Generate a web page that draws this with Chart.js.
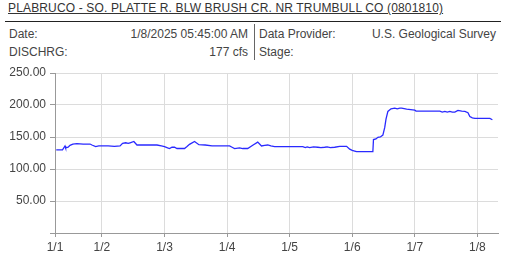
<!DOCTYPE html>
<html>
<head>
<meta charset="utf-8">
<script src="https://cdn.jsdelivr.net/npm/chart.js@4/dist/chart.umd.min.js"></script>
<style>
  html, body { margin: 0; padding: 0; background: #fff; }
  body { width: 508px; height: 270px; position: relative; overflow: hidden; font-family: Arial, "Liberation Sans", sans-serif; color: #444; }
  .t { position: absolute; white-space: nowrap; font-size: 12px; line-height: 14px; }
  #title { left: 8px; top: 1px; font-size: 12px; letter-spacing: 0.15px; color: #333; text-decoration: underline; line-height: 14px; }
  #rule { position: absolute; left: 5px; top: 21px; width: 496px; height: 1px; background: #222; }
  #sep { position: absolute; left: 254px; top: 24px; width: 1px; height: 36px; background: #666; }
  #wrap { position: absolute; left: 0; top: 60px; width: 508px; height: 210px; }
</style>
</head>
<body>
<div id="title" class="t"></div>
<div id="rule"></div>
<div class="t" id="l1" style="left:9px; top:27px;"></div>
<div class="t" id="v1" style="right:260px; top:27px;"></div>
<div class="t" id="l2" style="left:9px; top:45px;"></div>
<div class="t" id="v2" style="right:260px; top:45px;"></div>
<div id="sep"></div>
<div class="t" id="l3" style="left:259px; top:27px;"></div>
<div class="t" id="v3" style="right:12px; top:27px;"></div>
<div class="t" id="l4" style="left:259px; top:45px;"></div>
<div id="wrap"><canvas id="c" width="508" height="210"></canvas></div>
<script>
// ---- header texts ----
const titleText = "PLABRUCO - SO. PLATTE R. BLW BRUSH CR. NR TRUMBULL CO (0801810)";
const infoLabels = ["Date:", "DISCHRG:", "Data Provider:", "Stage:"];
const infoValues = ["1/8/2025 05:45:00 AM", "177 cfs", "U.S. Geological Survey", ""];

// ---- data: time in days since 1/1 00:00, discharge in cfs ----
const times = [0.27,0.37,0.41,0.42,0.46,0.49,0.535,0.6,0.7,0.81,0.84,0.90,0.95,1.0,1.1,1.2,1.29,1.33,1.38,1.42,1.45,1.51,1.56,1.7,1.88,1.95,2.0,2.05,2.08,2.12,2.16,2.2,2.32,2.36,2.40,2.48,2.55,2.65,2.76,3.04,3.08,3.12,3.2,3.25,3.33,3.41,3.49,3.55,3.6,3.65,3.7,3.76,4.0,4.21,4.25,4.28,4.32,4.38,4.45,4.5,4.56,4.6,4.65,4.72,4.8,4.91,4.96,5.0,5.04,5.07,5.2,5.33,5.34,5.38,5.41,5.45,5.49,5.52,5.54,5.57,5.62,5.68,5.72,5.76,5.79,5.87,6.0,6.02,6.2,6.4,6.44,6.48,6.52,6.56,6.6,6.64,6.69,6.75,6.80,6.85,6.88,6.92,6.96,7.1,7.2,7.24];
const flow  = [130,130,136,133,134,137,139,139.5,139,139,137.5,135,136,136,136,135.5,136,140,141,140,141,143,137.5,137.5,137.5,136,135,133,132,134,134,132,132,135,138.5,143,138,137.5,136,136,134,132,133,132,132,137,142,136,137,137.5,136,135,135,135,133.5,134.5,133.5,134.5,134,133.5,134,134.5,133.5,134,135.5,135.5,131,129,128,127,127,127,146,147,149.5,150,153,165,178,190,194,195,194,195,195,193.5,192,190.5,190.5,190.5,189,190,189,190,189,189,191.5,190.5,190,188,182,180,179,179,179,177];

// ---- axis ticks ----
const xTickValues = [0.25, 1, 2, 3, 4, 5, 6, 7];
const xTickLabels = ["1/1", "1/2", "1/3", "1/4", "1/5", "1/6", "1/7", "1/8"];
const yMin = 0, yMax = 250, yStep = 50;
const xMin = 0.25, xMax = 7.33;

document.getElementById('title').textContent = titleText;
document.getElementById('l1').textContent = infoLabels[0];
document.getElementById('l2').textContent = infoLabels[1];
document.getElementById('l3').textContent = infoLabels[2];
document.getElementById('l4').textContent = infoLabels[3];
document.getElementById('v1').textContent = infoValues[0];
document.getElementById('v2').textContent = infoValues[1];
document.getElementById('v3').textContent = infoValues[2];

const pts = times.map((t, i) => ({ x: t, y: flow[i] }));

new Chart(document.getElementById('c'), {
  type: 'line',
  data: { datasets: [{ data: pts, borderColor: '#2a2aff', borderWidth: 1.3, pointRadius: 0, tension: 0, fill: false }] },
  options: {
    responsive: false, animation: false,
    layout: { padding: { top: 13, right: 10, left: 0, bottom: 0 } },
    plugins: { legend: { display: false }, tooltip: { enabled: false } },
    scales: {
      x: {
        type: 'linear', min: xMin, max: xMax,
        afterBuildTicks: s => { s.ticks = xTickValues.map(v => ({ value: v })); },
        afterFit: s => { s.height = 37; },
        ticks: {
          autoSkip: false, maxRotation: 0, color: '#444', padding: 3,
          font: { family: 'Arial, "Liberation Sans", sans-serif', size: 12 },
          callback: (v, i) => xTickLabels[i]
        },
        grid: { color: '#dcdcdc', tickColor: '#999', tickLength: 4, lineWidth: 1 },
        border: { color: '#999' }
      },
      y: {
        min: yMin, max: yMax,
        afterFit: s => { s.width = 55; },
        ticks: {
          stepSize: yStep, color: '#444', padding: 4,
          font: { family: 'Arial, "Liberation Sans", sans-serif', size: 12 },
          callback: v => v === 0 ? '' : Number(v).toFixed(2)
        },
        grid: { color: '#dcdcdc', tickColor: '#999', tickLength: 5, lineWidth: 1 },
        border: { color: '#999' }
      }
    }
  }
});
</script>
</body>
</html>
